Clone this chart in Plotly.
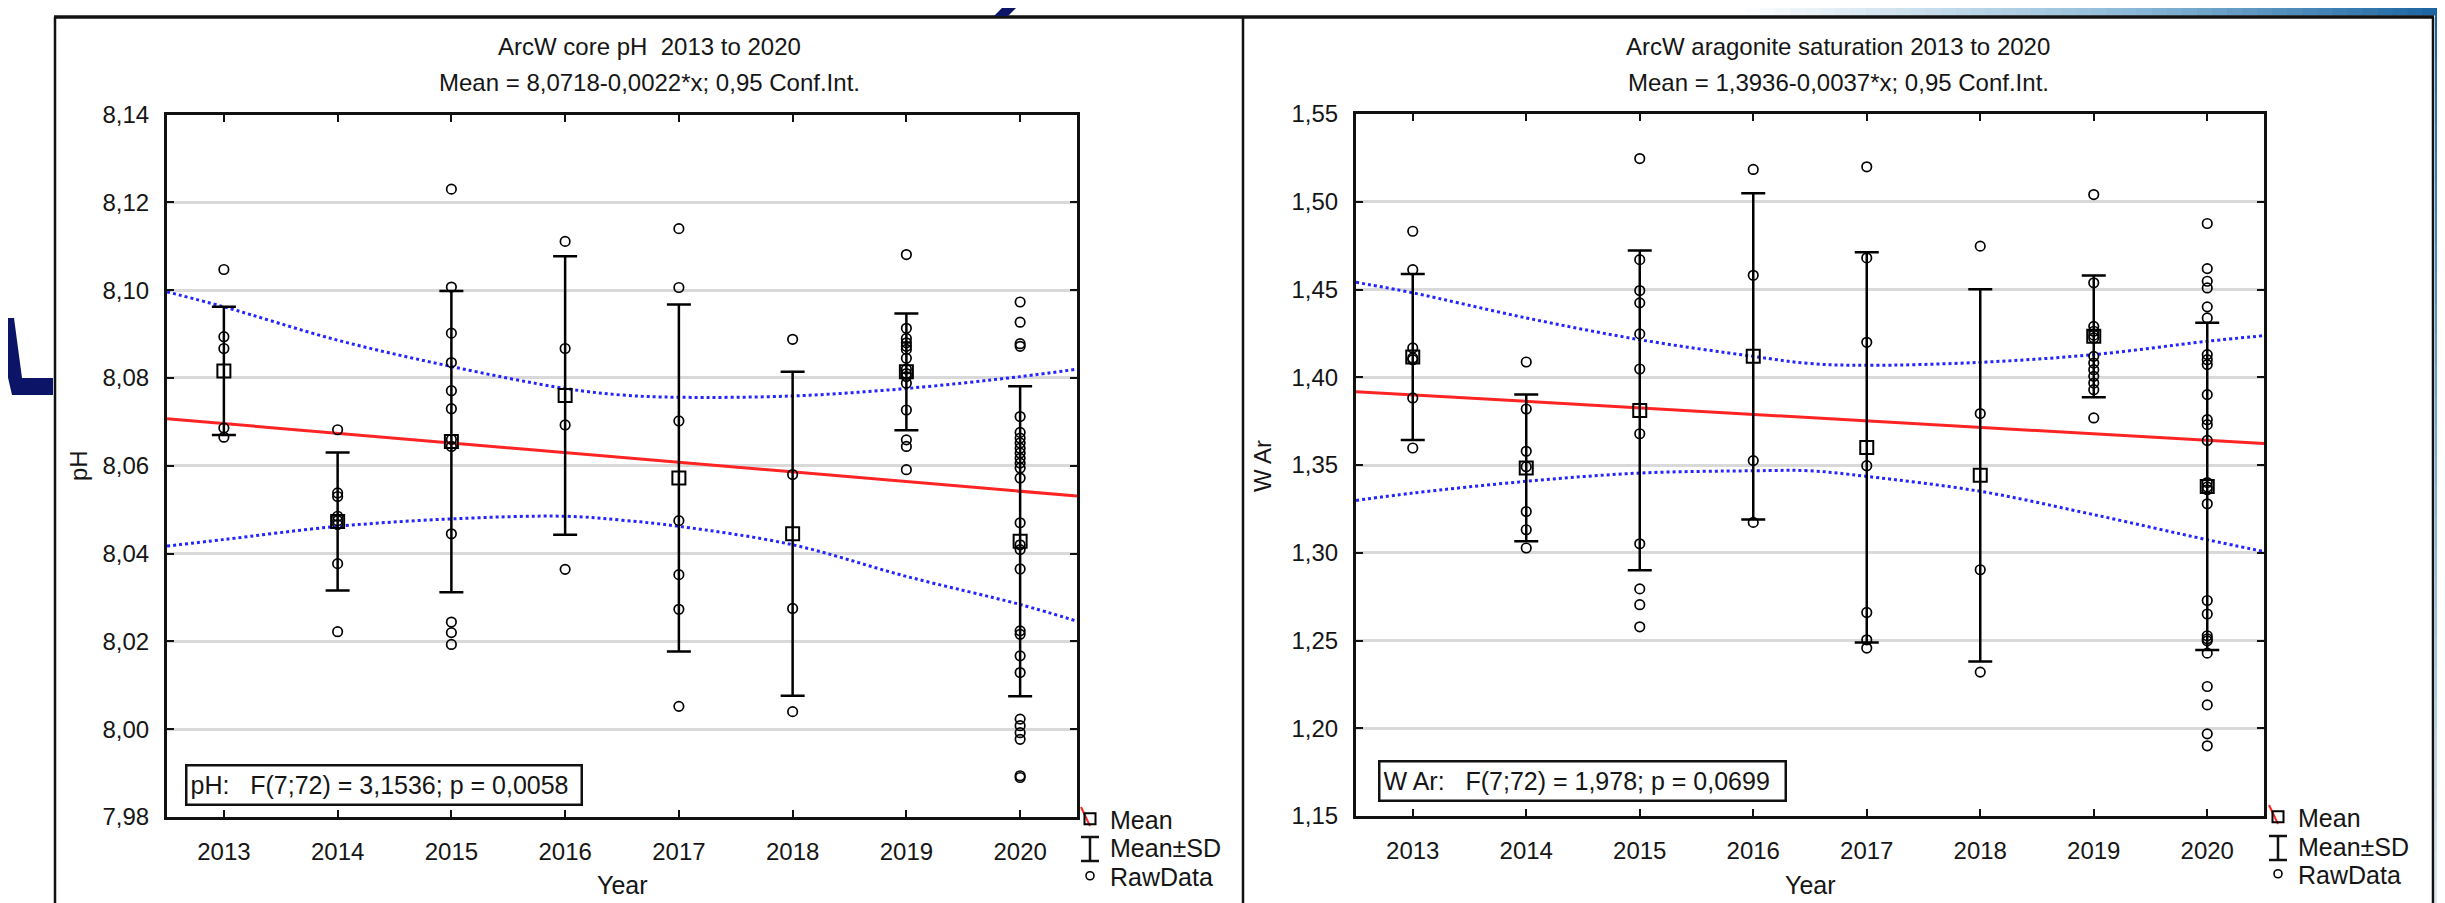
import plotly.graph_objects as go

W, H = 2445, 903
OFF = 8  # default page margin of the html body shifts the figure by 8 px
FONT = "Liberation Sans, Arial, sans-serif"
TXT = "#151515"

# ---------------- data ----------------
years = [2013, 2014, 2015, 2016, 2017, 2018, 2019, 2020]
xpos = [1, 2, 3, 4, 5, 6, 7, 8]

# pH panel
ph_mean = [8.0816, 8.0473, 8.0655, 8.0760, 8.0572, 8.0445, 8.0814, 8.0428]
ph_sd = [0.0146, 0.0157, 0.0343, 0.0317, 0.0395, 0.0369, 0.0133, 0.0353]
ph_raw = [
    [8.1047, 8.0894, 8.0867, 8.0686, 8.0665],
    [8.0682, 8.0538, 8.0530, 8.0485, 8.0475, 8.0466, 8.0377, 8.0222],
    [8.1230, 8.1007, 8.0902, 8.0835, 8.0771, 8.0730, 8.0660, 8.0644, 8.0445, 8.0244, 8.0220, 8.0193],
    [8.1111, 8.0867, 8.0693, 8.0364],
    [8.1140, 8.1006, 8.0702, 8.0475, 8.0352, 8.0273, 8.0052],
    [8.0888, 8.0580, 8.0275, 8.0040],
    [8.1081, 8.0913, 8.0890, 8.0880, 8.0872, 8.0865, 8.0845, 8.0820, 8.0810, 8.0803,
     8.0788, 8.0727, 8.0659, 8.0644, 8.0591],
    [8.0973, 8.0927, 8.0878, 8.0872, 8.0712, 8.0676, 8.0663, 8.0652, 8.0640, 8.0629,
     8.0617, 8.0606, 8.0595, 8.0572, 8.0470, 8.0420, 8.0409, 8.0365, 8.0224, 8.0216,
     8.0167, 8.0129, 8.0023, 8.0008, 7.9992, 7.9977, 7.9894, 7.9890],
]
fit_x = [0.5, 8.5]
ph_fit = [8.0707, 8.0531]
band_x = [0.5, 1, 2, 3, 4, 4.5, 5, 6, 7, 8, 8.5]
ph_band_hi = [8.0996, 8.0962, 8.0886, 8.0826, 8.0776, 8.0761, 8.0756, 8.0759, 8.0776, 8.0803, 8.0820]
ph_band_lo = [8.0417, 8.0432, 8.0462, 8.0479, 8.0485, 8.0476, 8.0462, 8.0420, 8.0348, 8.0284, 8.0246]
ph_ticks = [7.98, 8.00, 8.02, 8.04, 8.06, 8.08, 8.10, 8.12, 8.14]
ph_ticklabels = ["7,98", "8,00", "8,02", "8,04", "8,06", "8,08", "8,10", "8,12", "8,14"]

# aragonite saturation panel
war_mean = [1.4116, 1.3483, 1.3811, 1.4119, 1.3600, 1.3441, 1.4233, 1.3378]
war_sd = [0.0473, 0.0418, 0.0911, 0.0930, 0.1112, 0.1060, 0.0347, 0.0932]
war_raw = [
    [1.4832, 1.4613, 1.4167, 1.4110, 1.4100, 1.3882, 1.3597],
    [1.4087, 1.3819, 1.3578, 1.3490, 1.3235, 1.3131, 1.3027],
    [1.5246, 1.4670, 1.4494, 1.4424, 1.4247, 1.4047, 1.3678, 1.3051, 1.2794, 1.2704, 1.2578],
    [1.5184, 1.4581, 1.3525, 1.3173],
    [1.5199, 1.4680, 1.4199, 1.3496, 1.2660, 1.2504, 1.2457],
    [1.4747, 1.3793, 1.2903, 1.2320],
    [1.5041, 1.4538, 1.4290, 1.4262, 1.4240, 1.4224, 1.4119, 1.4081, 1.4043, 1.4005,
     1.3967, 1.3929, 1.3768],
    [1.4876, 1.4619, 1.4547, 1.4509, 1.4401, 1.4338, 1.4129, 1.4100, 1.4072, 1.3901,
     1.3758, 1.3730, 1.3640, 1.3400, 1.3375, 1.3359, 1.3279, 1.2728, 1.2651, 1.2527,
     1.2510, 1.2498, 1.2428, 1.2238, 1.2133, 1.1968, 1.1900],
]
war_fit = [1.3918, 1.3622]
war_band_hi = [1.4541, 1.4481, 1.4338, 1.4214, 1.4119, 1.4078, 1.4068, 1.4085, 1.4129, 1.4205, 1.4237]
war_band_lo = [1.3298, 1.3340, 1.3407, 1.3454, 1.3467, 1.3467, 1.3435, 1.3350, 1.3217, 1.3074, 1.3007]
war_ticks = [1.15, 1.20, 1.25, 1.30, 1.35, 1.40, 1.45, 1.50, 1.55]
war_ticklabels = ["1,15", "1,20", "1,25", "1,30", "1,35", "1,40", "1,45", "1,50", "1,55"]

titles = [
    ("ArcW core pH  2013 to 2020", "Mean = 8,0718-0,0022*x; 0,95 Conf.Int."),
    ("ArcW aragonite saturation 2013 to 2020", "Mean = 1,3936-0,0037*x; 0,95 Conf.Int."),
]
stats_text = ["pH:   F(7;72) = 3,1536; p = 0,0058", "W Ar:   F(7;72) = 1,978; p = 0,0699"]
ylabels = ["pH", "W Ar"]
legend_names = ["Mean", "Mean±SD", "RawData"]


# ---------------- helpers (screen pixel -> paper fraction) ----------------
def px(x):
    return (x - OFF) / W


def py(y):
    return 1 - (y - OFF) / H


fig = go.Figure()

panels = [
    dict(xa="x", ya="y", legs=["legend", "legend2", "legend3"], mean=ph_mean, sd=ph_sd,
         raw=ph_raw, fit=ph_fit, hi=ph_band_hi, lo=ph_band_lo),
    dict(xa="x2", ya="y2", legs=["legend4", "legend5", "legend6"], mean=war_mean, sd=war_sd,
         raw=war_raw, fit=war_fit, hi=war_band_hi, lo=war_band_lo),
]

legend_markers = [
    dict(symbol="square-open", size=11, color="black", line=dict(width=2, color="black")),
    dict(symbol="line-ns-open", size=20, color="rgba(0,0,0,0)", line=dict(width=2.5, color="rgba(0,0,0,0)")),
    dict(symbol="circle-open", size=8, color="black", line=dict(width=1.6, color="black")),
]

for p in panels:
    for band in (p["hi"], p["lo"]):
        fig.add_trace(go.Scatter(x=band_x, y=band, mode="lines", xaxis=p["xa"], yaxis=p["ya"],
                                 line=dict(color="#2424ff", width=3, dash="dot", shape="spline"),
                                 showlegend=False, hoverinfo="skip"))
    fig.add_trace(go.Scatter(x=fit_x, y=p["fit"], mode="lines", xaxis=p["xa"], yaxis=p["ya"],
                             line=dict(color="#ff2424", width=3), showlegend=False))
    fig.add_trace(go.Scatter(x=xpos, y=p["mean"], mode="markers", xaxis=p["xa"], yaxis=p["ya"],
                             marker=dict(symbol="square-open", size=13, color="black",
                                         line=dict(width=2, color="black")),
                             error_y=dict(type="data", array=p["sd"], symmetric=True,
                                          color="black", thickness=2.5, width=12),
                             showlegend=False))
    rx, ry = [], []
    for i, vals in enumerate(p["raw"]):
        rx += [xpos[i]] * len(vals)
        ry += vals
    fig.add_trace(go.Scatter(x=rx, y=ry, mode="markers", xaxis=p["xa"], yaxis=p["ya"],
                             marker=dict(symbol="circle-open", size=9.5, color="black",
                                         line=dict(width=1.7, color="black")),
                             showlegend=False))
    # legend entries, one legend box per entry so the spacing matches
    for name, leg, mk in zip(legend_names, p["legs"], legend_markers):
        fig.add_trace(go.Scatter(x=[None], y=[None], mode="markers", name=name, legend=leg,
                                 xaxis=p["xa"], yaxis=p["ya"], marker=mk))

axis_common = dict(showline=True, mirror="ticks", linecolor="#111", linewidth=3,
                   ticks="inside", tickcolor="#111", tickwidth=2, ticklen=7,
                   tickfont=dict(family=FONT, size=24, color=TXT), zeroline=False)

layout = dict(
    width=W, height=H, autosize=False,
    margin=dict(l=0, r=0, t=0, b=0, pad=0, autoexpand=False),
    paper_bgcolor="white", plot_bgcolor="white",
    font=dict(family=FONT, color=TXT),
    xaxis=dict(domain=[px(167), px(1077)], range=[0.5, 8.5], tickmode="array",
               tickvals=xpos, ticktext=[str(y) for y in years], showgrid=False,
               anchor="y", ticklabelstandoff=11, **axis_common),
    yaxis=dict(domain=[py(817), py(114.5)], range=[7.98, 8.14], tickmode="array",
               tickvals=ph_ticks, ticktext=ph_ticklabels, showgrid=True,
               gridcolor="#d9d9d9", gridwidth=3, anchor="x", ticklabelstandoff=10,
               **axis_common),
    xaxis2=dict(domain=[px(1356), px(2264)], range=[0.5, 8.5], tickmode="array",
                tickvals=xpos, ticktext=[str(y) for y in years], showgrid=False,
                anchor="y2", ticklabelstandoff=11, **axis_common),
    yaxis2=dict(domain=[py(816), py(114)], range=[1.15, 1.55], tickmode="array",
                tickvals=war_ticks, ticktext=war_ticklabels, showgrid=True,
                gridcolor="#d9d9d9", gridwidth=3, anchor="x2", ticklabelstandoff=10,
                **axis_common),
)
leg_x = [1070, 2258]
leg_y = [[819, 847, 876], [817, 846, 874]]
for k, p in enumerate(panels):
    for j, leg in enumerate(p["legs"]):
        layout[leg] = dict(x=px(leg_x[k]), y=py(leg_y[k][j]), xanchor="left", yanchor="middle",
                           font=dict(family=FONT, size=25, color=TXT),
                           bgcolor="rgba(0,0,0,0)", itemwidth=30, borderwidth=0)
fig.update_layout(**layout)

ann = []
centers = [649, 1838]
plot_centers = [622, 1810]
ylab_x = [78, 1262]
box_left = [185, 1378]
box_w = [399, 410]
box_mid = [785, 781]
for k in range(2):
    ann.append(dict(x=px(centers[k]), y=py(47), xref="paper", yref="paper", text=titles[k][0],
                    showarrow=False, font=dict(family=FONT, size=24, color=TXT),
                    xanchor="center", yanchor="middle"))
    ann.append(dict(x=px(centers[k]), y=py(82), xref="paper", yref="paper", text=titles[k][1],
                    showarrow=False, font=dict(family=FONT, size=24, color=TXT),
                    xanchor="center", yanchor="middle"))
    ann.append(dict(x=px(plot_centers[k]), y=py(885), xref="paper", yref="paper", text="Year",
                    showarrow=False, font=dict(family=FONT, size=25, color=TXT),
                    xanchor="center", yanchor="middle"))
    ann.append(dict(x=px(ylab_x[k]), y=py(466), xref="paper", yref="paper", text=ylabels[k],
                    textangle=-90, showarrow=False, font=dict(family=FONT, size=24, color=TXT),
                    xanchor="center", yanchor="middle"))
    ann.append(dict(x=px(box_left[k]), y=py(box_mid[k]), xref="paper", yref="paper",
                    text=stats_text[k], showarrow=False, align="left",
                    width=box_w[k] - 12, height=31, borderpad=3,
                    bordercolor="#111", borderwidth=2.5, bgcolor="white",
                    font=dict(family=FONT, size=25, color=TXT),
                    xanchor="left", yanchor="middle"))
fig.update_layout(annotations=ann)

# ---------------- slide decorations / panel frames / legend glyphs ----------------
shapes = []
line_col = "#111"
shapes.append(dict(type="line", xref="paper", yref="paper", x0=px(54), x1=px(2434),
                   y0=py(17), y1=py(17), line=dict(color=line_col, width=3.5)))
for xv in (55, 1243, 2433):
    shapes.append(dict(type="line", xref="paper", yref="paper", x0=px(xv), x1=px(xv),
                       y0=py(17), y1=py(911), line=dict(color=line_col, width=2.5)))

# legend glyph details: I-beam for Mean±SD and red slash on the Mean symbol
for k in range(2):
    gx = leg_x[k] + 20
    ys = leg_y[k][1] + 2
    for (xa, ya, xb, yb) in [(gx, ys - 12, gx, ys + 12), (gx - 9, ys - 12, gx + 9, ys - 12),
                             (gx - 9, ys + 12, gx + 9, ys + 12)]:
        shapes.append(dict(type="line", xref="paper", yref="paper", x0=px(xa), x1=px(xb),
                           y0=py(ya), y1=py(yb), line=dict(color="#111", width=2.5)))
    ym = leg_y[k][0]
    shapes.append(dict(type="line", xref="paper", yref="paper", x0=px(gx - 9), x1=px(gx),
                       y0=py(ym - 12), y1=py(ym + 7), line=dict(color="#ff2424", width=2)))


def mix(c1, c2, t):
    a = [int(c1[i:i + 2], 16) for i in (1, 3, 5)]
    b = [int(c2[i:i + 2], 16) for i in (1, 3, 5)]
    return "#" + "".join(f"{round(a[i] + (b[i] - a[i]) * t):02x}" for i in range(3))


# top-right gradient band
n = 48
x_start, x_end = 1730, 2453
step = (x_end - x_start) / n
for i in range(n):
    t = i / (n - 1)
    c = mix("#ffffff", "#8dbad8", t / 0.55) if t < 0.55 else mix("#8dbad8", "#1762a0", (t - 0.55) / 0.45)
    shapes.append(dict(type="rect", xref="paper", yref="paper", x0=px(x_start + i * step),
                       x1=px(x_start + (i + 1) * step + 1), y0=py(15.5), y1=py(0),
                       fillcolor=c, line=dict(width=0), layer="below"))
# right edge strip
m = 30
sstep = (H + OFF) / m
for i in range(m):
    t = i / (m - 1)
    c = mix("#1762a0", "#6fb0dc", t / 0.5) if t < 0.5 else mix("#6fb0dc", "#d6eaf6", (t - 0.5) / 0.5)
    shapes.append(dict(type="rect", xref="paper", yref="paper", x0=px(2435), x1=px(2455),
                       y0=py((i + 1) * sstep + 1), y1=py(i * sstep), fillcolor=c,
                       line=dict(width=0), layer="below"))
# navy strokes of the slide background
navy = "#0b1466"
shapes.append(dict(type="path", xref="paper", yref="paper", fillcolor=navy, line=dict(width=0),
                   path=f"M {px(1010)} {py(0)} L {px(1024)} {py(0)} L {px(1008)} {py(16)} "
                        f"L {px(994)} {py(16)} Z"))
shapes.append(dict(type="path", xref="paper", yref="paper", fillcolor=navy, line=dict(width=0),
                   path=f"M {px(0)} {py(318)} L {px(14)} {py(318)} L {px(22)} {py(378)} "
                        f"L {px(53)} {py(378)} L {px(53)} {py(395)} L {px(12)} {py(395)} "
                        f"L {px(4)} {py(360)} Z"))
fig.update_layout(shapes=shapes)

fig.write_html("out.html")
